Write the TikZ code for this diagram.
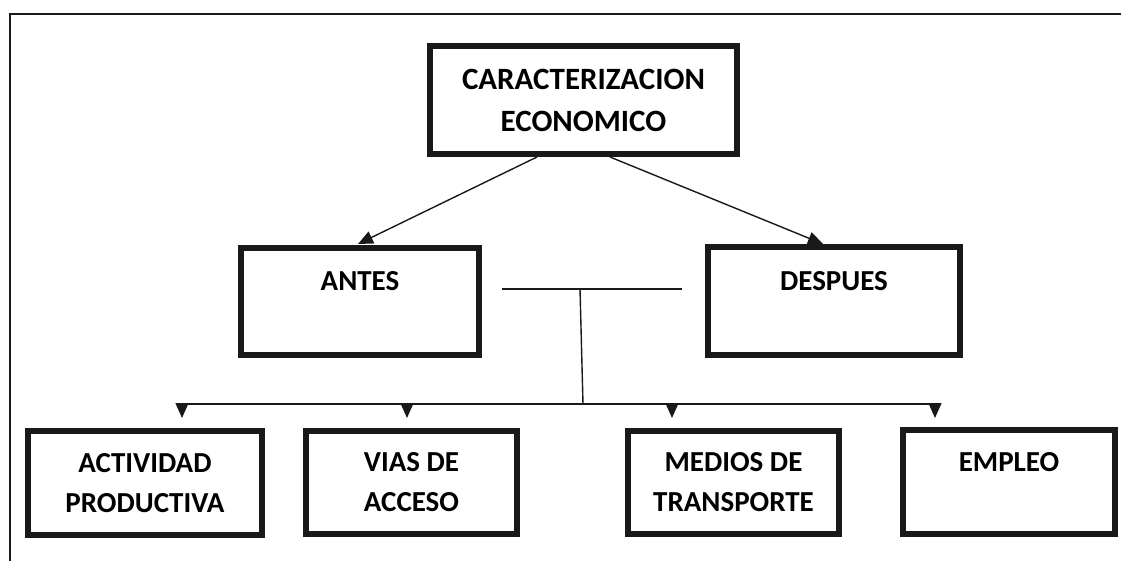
\documentclass[tikz,border=0pt]{standalone}
\usepackage{fontspec}
\setmainfont{Carlito}
\usetikzlibrary{arrows.meta}
\begin{document}
\begin{tikzpicture}[x=1pt,y=-1pt,
  box/.style={draw=black!90,line width=6pt,inner sep=0pt,align=center,
    font=\fontsize{29}{40}\selectfont\bfseries},
  lbl/.style={inner sep=0pt,font=\fontsize{29}{40}\selectfont\bfseries},
  conn/.style={line width=1.4pt,draw=black!90},
  tri/.style={conn,-{Triangle[length=15pt,width=13pt]}},
  frame/.style={line width=2.6pt,draw=black!90}]
\useasboundingbox (0,0) rectangle (1124,561);
% frame
\coordinate (fa) at (10,561);
\coordinate (fb) at (10,14);
\coordinate (fc) at (1121,14);
\draw[frame] (fa) -- (fb) -- (fc);
% boxes
\node[box,minimum width=307pt,minimum height=108pt,
  font=\fontsize{31}{42}\selectfont\bfseries] (top) at (583.5,100)
  {CARACTERIZACION\\ECONOMICO};
\node[box,minimum width=238pt,minimum height=107pt] (antes) at (360,301.5) {};
\node[box,minimum width=252pt,minimum height=108pt] (despues) at (834,301) {};
\node[box,minimum width=234pt,minimum height=104pt] (act) at (145,483)
  {ACTIVIDAD\\PRODUCTIVA};
\node[box,minimum width=211pt,minimum height=103pt] (vias) at (411.5,482.5)
  {VIAS DE\\ACCESO};
\node[box,minimum width=211pt,minimum height=103pt] (medios) at (733.5,482.5)
  {MEDIOS DE\\TRANSPORTE};
\node[box,minimum width=212pt,minimum height=104pt] (empleo) at (1009,482) {};
\node[lbl] (antesT) at ([yshift=-36pt]antes.north) {ANTES};
\node[lbl] (despuesT) at ([yshift=-37pt]despues.north) {DESPUES};
\node[lbl] (empleoT) at ([yshift=-35pt]empleo.north) {EMPLEO};
% arrows from top
\coordinate (tl) at (537,157);
\coordinate (tr) at (610,157);
\coordinate (al) at (358,244);
\coordinate (dr) at (823,244);
\draw[tri] (tl) -- (al);
\draw[tri] (tr) -- (dr);
% T connector
\coordinate (hl) at (502,289);
\coordinate (hr) at (682,289);
\coordinate (hm) at (580,289);
\coordinate (bm) at (583,404);
\draw[conn] (hl) -- (hr);
\draw[conn] (hm) -- (bm);
% bus
\coordinate (b1) at (182,404);
\coordinate (b4) at (935,404);
\draw[conn] (b1) -- (b4);
\foreach \n/\x in {act/182,vias/407,medios/672,empleo/935}{
  \coordinate (s\n) at (\x,403);
  \coordinate (e\n) at (\x,418);
  \draw[tri] (s\n) -- (e\n);
}
\end{tikzpicture}
\end{document}
